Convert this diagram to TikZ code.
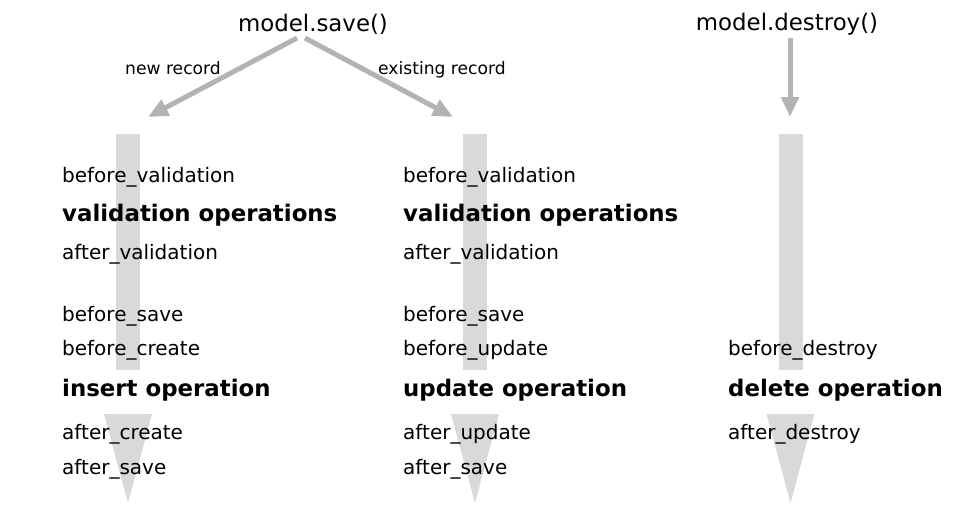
\documentclass[tikz,border=0pt]{standalone}
\usepackage{fontspec}
\setmainfont{DejaVu Sans}
\usetikzlibrary{arrows.meta}
\definecolor{barcol}{RGB}{217,217,217}
\definecolor{arrcol}{RGB}{179,179,179}
\begin{document}
\begin{tikzpicture}[x=1pt,y=-1pt,
  hook/.style={anchor=base west,inner sep=0pt,font=\fontsize{20}{24}\selectfont},
  oper/.style={anchor=base west,inner sep=0pt,font=\fontsize{22.86}{27}\selectfont\bfseries},
  title/.style={anchor=base,inner sep=0pt,font=\fontsize{22.86}{27}\selectfont},
  small/.style={anchor=base west,inner sep=0pt,font=\fontsize{17.14}{20}\selectfont},
  bar/.style={fill=barcol,draw=none},
  flow/.style={draw=arrcol,line width=5pt,-{Triangle[length=20pt,width=17pt]}}]
\useasboundingbox (0,0) rectangle (963,504);
% bars
\foreach \c in {128,475,790.5}{
  \fill[bar] (\c-12,134) rectangle (\c+12,370);
  \fill[bar] (\c-24,414) -- (\c+24,414) -- (\c,503) -- cycle;
}
% titles
\node[title] (save) at (313,31) {model.save()};
\node[title] (destroy) at (787,30) {model.destroy()};
\node[small] (newrec) at (125,74) {new record};
\node[small] (exrec) at (378,74) {existing record};
\coordinate (s1) at (297,38);
\coordinate (s2) at (305,38);
\coordinate (s3) at (790,38);
\coordinate (t1) at (148,117);
\coordinate (t2) at (453,117);
\coordinate (t3) at (790,117);
\draw[flow] (s1) -- (t1);
\draw[flow] (s2) -- (t2);
\draw[flow] (s3) -- (t3);
% left column
\node[hook] (a1) at (62,182) {before\_validation};
\node[oper] (a2) at (62,221) {validation operations};
\node[hook] (a3) at (62,259) {after\_validation};
\node[hook] (a4) at (62,321) {before\_save};
\node[hook] (a5) at (62,355) {before\_create};
\node[oper] (a6) at (62,396) {insert operation};
\node[hook] (a7) at (62,439) {after\_create};
\node[hook] (a8) at (62,474) {after\_save};
% middle column
\node[hook] (b1) at (403,182) {before\_validation};
\node[oper] (b2) at (403,221) {validation operations};
\node[hook] (b3) at (403,259) {after\_validation};
\node[hook] (b4) at (403,321) {before\_save};
\node[hook] (b5) at (403,355) {before\_update};
\node[oper] (b6) at (403,396) {update operation};
\node[hook] (b7) at (403,439) {after\_update};
\node[hook] (b8) at (403,474) {after\_save};
% right column
\node[hook] (c5) at (728,355) {before\_destroy};
\node[oper] (c6) at (728,396) {delete operation};
\node[hook] (c7) at (728,439) {after\_destroy};
\end{tikzpicture}
\end{document}
